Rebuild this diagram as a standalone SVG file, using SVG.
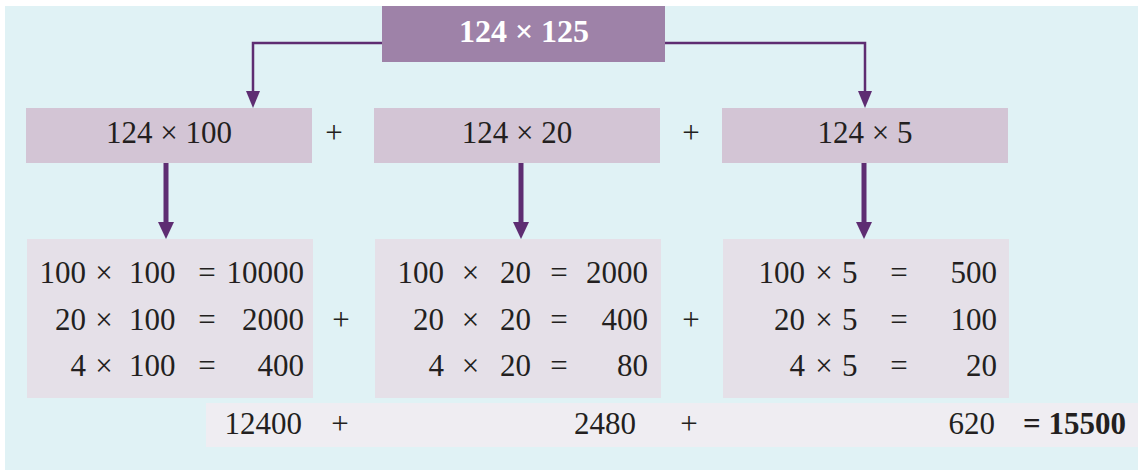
<svg xmlns="http://www.w3.org/2000/svg" width="1138" height="471" viewBox="0 0 1138 471">
<style>
text{font-family:"Liberation Serif","Times New Roman",serif;font-size:31px;fill:#231f20}
.m{text-anchor:middle}.e{text-anchor:end}
.b{font-weight:bold}
.top{fill:#9e82a8}.mid{fill:#d3c5d5}.low{fill:#e5e0e8}.sum{fill:#efedf2}
.thin{fill:none;stroke:#5e2d72;stroke-width:2.5}
.thick{fill:none;stroke:#5e2d72;stroke-width:5}
</style>
<defs>
<marker id="ah1" markerUnits="userSpaceOnUse" markerWidth="17" markerHeight="14" viewBox="0 0 17 14" refX="9" refY="7" orient="auto"><path d="M0,0 L17,7 L0,14 z" fill="#5e2d72"/></marker>
<marker id="ah2" markerUnits="userSpaceOnUse" markerWidth="17" markerHeight="16" viewBox="0 0 17 16" refX="7" refY="8" orient="auto"><path d="M0,0 L17,8 L0,16 z" fill="#5e2d72"/></marker>
</defs>
<rect x="5" y="6" width="1133" height="464" fill="#e0f2f5"/>
<rect class="sum" x="206" y="403" width="932" height="44"/>
<g id="connectors">
<path class="thin" d="M383,43 H253 V100" marker-end="url(#ah1)"/>
<path class="thin" d="M664,43 H865 V100" marker-end="url(#ah1)"/>
<path class="thick" d="M166,163 V229" marker-end="url(#ah2)"/>
<path class="thick" d="M521,163 V229" marker-end="url(#ah2)"/>
<path class="thick" d="M864,163 V229" marker-end="url(#ah2)"/>
</g>
<g id="n-top"><rect class="top" x="382" y="6" width="283" height="56"/><text class="m b" x="524" y="42" style="fill:#fff;font-size:32px">124 × 125</text></g>
<g id="n-m1"><rect class="mid" x="26" y="108" width="286" height="55"/><text class="m" x="169" y="143">124 × 100</text></g>
<g id="n-m2"><rect class="mid" x="374" y="108" width="286" height="55"/><text class="m" x="517" y="143">124 × 20</text></g>
<g id="n-m3"><rect class="mid" x="722" y="108" width="286" height="55"/><text class="m" x="865" y="143">124 × 5</text></g>
<g id="plus-mid"><text class="m" x="334" y="143">+</text><text class="m" x="691" y="143">+</text></g>
<g id="n-b1"><rect class="low" x="27" y="239" width="286" height="159"/>
<text class="e" x="86" y="283">100</text><text class="m" x="104" y="283">×</text><text x="129" y="283">100</text><text class="m" x="207" y="283">=</text><text class="e" x="304" y="283">10000</text>
<text class="e" x="86" y="330">20</text><text class="m" x="104" y="330">×</text><text x="129" y="330">100</text><text class="m" x="207" y="330">=</text><text class="e" x="304" y="330">2000</text>
<text class="e" x="86" y="376">4</text><text class="m" x="104" y="376">×</text><text x="129" y="376">100</text><text class="m" x="207" y="376">=</text><text class="e" x="304" y="376">400</text>
</g>
<g id="n-b2"><rect class="low" x="375" y="239" width="286" height="159"/>
<text class="e" x="444" y="283">100</text><text class="m" x="470.5" y="283">×</text><text x="500" y="283">20</text><text class="m" x="559" y="283">=</text><text class="e" x="648" y="283">2000</text>
<text class="e" x="444" y="330">20</text><text class="m" x="470.5" y="330">×</text><text x="500" y="330">20</text><text class="m" x="559" y="330">=</text><text class="e" x="648" y="330">400</text>
<text class="e" x="444" y="376">4</text><text class="m" x="470.5" y="376">×</text><text x="500" y="376">20</text><text class="m" x="559" y="376">=</text><text class="e" x="648" y="376">80</text>
</g>
<g id="n-b3"><rect class="low" x="723" y="239" width="286" height="159"/>
<text class="e" x="805" y="283">100</text><text class="m" x="824" y="283">×</text><text x="842" y="283">5</text><text class="m" x="899" y="283">=</text><text class="e" x="997" y="283">500</text>
<text class="e" x="805" y="330">20</text><text class="m" x="824" y="330">×</text><text x="842" y="330">5</text><text class="m" x="899" y="330">=</text><text class="e" x="997" y="330">100</text>
<text class="e" x="805" y="376">4</text><text class="m" x="824" y="376">×</text><text x="842" y="376">5</text><text class="m" x="899" y="376">=</text><text class="e" x="997" y="376">20</text>
</g>
<g id="plus-low"><text class="m" x="341" y="330">+</text><text class="m" x="691" y="330">+</text></g>
<g id="n-sum">
<text class="e" x="302" y="434">12400</text><text class="m" x="340" y="434">+</text>
<text class="e" x="636" y="434">2480</text><text class="m" x="689" y="434">+</text>
<text class="e" x="995" y="434">620</text><text class="b" x="1023" y="434">= 15500</text>
</g>
</svg>
